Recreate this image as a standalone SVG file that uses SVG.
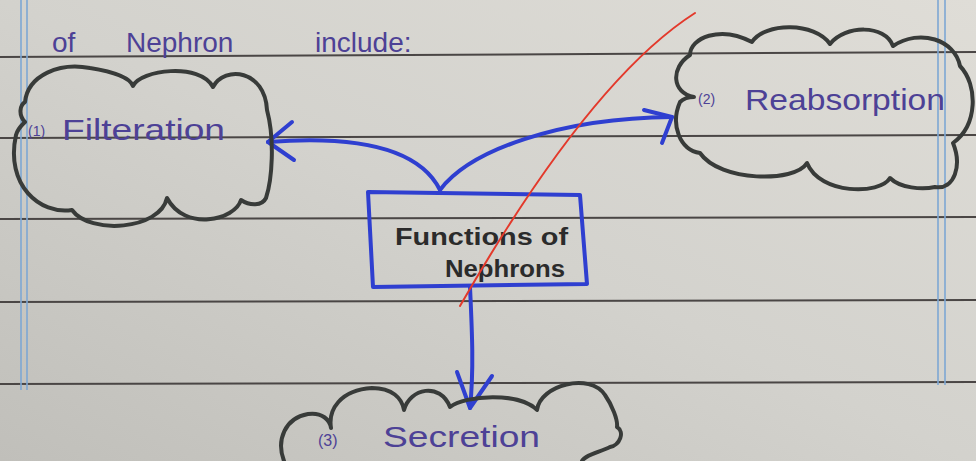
<svg xmlns="http://www.w3.org/2000/svg" width="976" height="461" viewBox="0 0 976 461">
<defs>
<linearGradient id="paper" x1="0" y1="1" x2="1" y2="0">
<stop offset="0" stop-color="#c0bfba"/>
<stop offset="0.5" stop-color="#d3d2cd"/>
<stop offset="1" stop-color="#dfddd7"/>
</linearGradient>
<style>
.rule{stroke:#4a4645;stroke-width:2;fill:none}
.margin{stroke:#7da7d4;stroke-width:1.6;fill:none}
.cloud{fill:none;stroke:#383b39;stroke-width:4;stroke-linejoin:round;stroke-linecap:round}
.blue{fill:none;stroke:#2f3fd0;stroke-width:4;stroke-linecap:round;stroke-linejoin:round}
.hand{font-family:"Liberation Sans","DejaVu Sans",sans-serif;fill:#4d4196}
.small{font-size:14px}
.big{font-size:29px}
.box{font-family:"Liberation Sans","DejaVu Sans",sans-serif;font-weight:bold;fill:#2b2b2b;font-size:23px}
</style>
</defs>
<g id="paper-bg">
<rect x="0" y="0" width="976" height="461" fill="url(#paper)"/>
<line class="rule" x1="0" y1="57" x2="976" y2="52"/>
<line class="rule" x1="0" y1="138" x2="976" y2="135"/>
<line class="rule" x1="0" y1="219" x2="976" y2="217"/>
<line class="rule" x1="0" y1="302" x2="976" y2="300"/>
<line class="rule" x1="0" y1="384" x2="976" y2="382"/>
<line class="margin" x1="21" y1="0" x2="21" y2="390"/>
<line class="margin" x1="27" y1="0" x2="27" y2="390"/>
<line class="margin" x1="938" y1="0" x2="938" y2="385"/>
<line class="margin" x1="945" y1="0" x2="945" y2="385"/>
</g>
<g id="heading">
<text class="hand" font-size="28" y="52"><tspan x="52">of</tspan><tspan x="126">Nephron</tspan><tspan x="315">include:</tspan></text>
</g>
<g id="connectors">
<path class="blue" d="M440,190 C420,150 360,135 268,142"/>
<path class="blue" d="M292,122 L268,142 L294,160"/>
<path class="blue" d="M440,190 C470,150 560,118 672,117"/>
<path class="blue" d="M644,110 L672,117 L662,143"/>
<path class="blue" d="M470,287 C472,330 474,370 470,408"/>
<path class="blue" d="M457,372 L470,408 L492,376"/>
</g>
<g id="node-filteration">
<path class="cloud" d="M25,102 C28,75 60,62 90,68 C115,72 130,78 133,86 C140,70 200,62 213,87 C225,65 265,70 267,110 C275,140 272,180 266,198 C262,206 250,206 241,200 C235,220 185,232 167,198 C160,230 90,235 72,210 C40,215 5,185 16,135 C18,128 22,125 25,122 C18,115 20,105 25,102 Z"/>
<text class="hand small" x="28" y="136">(1)</text>
<text class="hand big" x="62" y="140" textLength="163" lengthAdjust="spacingAndGlyphs">Filteration</text>
</g>
<g id="node-reabsorption">
<path class="cloud" d="M690,55 C690,38 720,25 752,42 C765,22 815,22 830,44 C845,25 885,24 893,46 C920,28 955,40 960,66 C978,85 978,125 953,143 C962,165 955,190 935,187 C922,190 900,188 890,178 C880,195 820,195 807,163 C795,183 720,182 700,153 C680,150 670,125 680,102 C685,97 690,97 694,97 C672,93 670,68 690,55 Z"/>
<text class="hand small" x="698" y="104">(2)</text>
<text class="hand big" x="745" y="110" textLength="200" lengthAdjust="spacingAndGlyphs">Reabsorption</text>
</g>
<g id="node-functions">
<path class="blue" d="M368,192 L580,195 L587,284 L373,287 Z"/>
<text class="box" x="395" y="245" textLength="173" lengthAdjust="spacingAndGlyphs">Functions of</text>
<text class="box" x="445" y="277" textLength="120" lengthAdjust="spacingAndGlyphs">Nephrons</text>
</g>
<g id="node-secretion">
<path class="cloud" d="M284,461 C276,440 285,418 308,414 C322,412 330,420 331,428 C328,410 340,390 372,388 C392,388 402,398 404,410 C410,388 440,382 450,407 C465,395 520,392 537,410 C540,385 590,372 605,395 C612,405 618,420 617,427 C625,432 620,445 610,447 C600,452 585,455 582,461"/>
<text class="hand" font-size="16" x="318" y="446">(3)</text>
<text class="hand big" x="383" y="447" textLength="157" lengthAdjust="spacingAndGlyphs">Secretion</text>
</g>
<g id="annotation">
<path d="M695,13 Q590,80 460,306" fill="none" stroke="#e3392b" stroke-width="2" stroke-linecap="round"/>
</g>
</svg>
